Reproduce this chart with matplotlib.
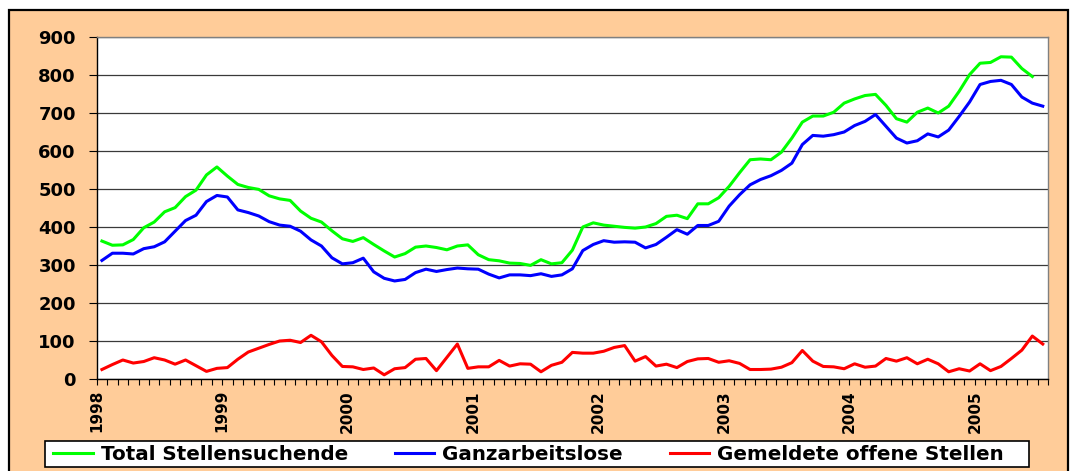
import matplotlib.pyplot as plt
import numpy as np
from matplotlib.patches import Rectangle

# monthly values (in thousands), Jan 1998 .. Jul 2005
total = [363, 352, 353, 367, 398, 413, 440, 451, 480, 497, 537, 558,
         534, 512, 504, 499, 482, 474, 470, 442, 423, 413, 390, 369,
         362, 372, 354, 337, 321, 330, 347, 350, 346, 340, 350, 353,
         327, 314, 311, 305, 304, 299, 314, 303, 306, 339, 400, 411,
         405, 402, 399, 397, 400, 409, 428, 431, 422, 461, 461, 477,
         507, 543, 577, 579, 577, 597, 634, 676, 692, 692, 702, 726,
         737, 746, 749, 720, 685, 676, 702, 713, 700, 718, 757, 801,
         831, 833, 848, 847, 817, 796]
unemployed = [312, 331, 331, 329, 343, 348, 361, 389, 417, 431, 467, 483,
              479, 445, 438, 429, 414, 405, 402, 389, 366, 350, 319, 303,
              306, 318, 282, 265, 258, 262, 280, 289, 283, 288, 292, 290,
              289, 276, 266, 274, 274, 272, 277, 270, 274, 290, 338, 354,
              364, 360, 361, 360, 345, 354, 373, 393, 381, 404, 404, 415,
              455, 485, 511, 525, 535, 549, 568, 617, 641, 639, 643, 650,
              667, 678, 696, 665, 634, 621, 627, 645, 637, 655, 691, 729,
              775, 783, 786, 775, 742, 726, 718]
vacancies = [25, 38, 50, 42, 46, 56, 50, 39, 50, 35, 20, 28,
             30, 52, 71, 81, 91, 100, 102, 96, 115, 98, 62, 33,
             32, 25, 29, 11, 27, 30, 52, 54, 22, 57, 92, 28,
             32, 32, 49, 34, 40, 39, 19, 36, 44, 70, 68, 68,
             73, 83, 88, 47, 59, 34, 39, 30, 46, 53, 54, 44,
             48, 41, 25, 25, 26, 31, 43, 75, 47, 33, 32, 27,
             40, 31, 34, 54, 47, 56, 40, 52, 40, 19, 27, 21,
             40, 22, 33, 54, 76, 113, 92]
years = ['1998', '1999', '2000', '2001', '2002', '2003', '2004', '2005']
labels = ['Total Stellensuchende', 'Ganzarbeitslose', 'Gemeldete offene Stellen']

plt.rcParams['font.family'] = 'DejaVu Sans'
plt.rcParams['font.weight'] = 'bold'

W, H = 1073, 471
fig = plt.figure(figsize=(W / 100, H / 100), dpi=100)
fig.patch.set_facecolor('white')

# peach chart area with black frame
fig.patches.append(Rectangle((9 / W, -3 / H), (1068 - 9) / W, (H - 10 + 3) / H,
                             transform=fig.transFigure, facecolor='#FFCC99',
                             edgecolor='black', lw=1.6, zorder=-10))
# legend box
fig.patches.append(Rectangle((45 / W, (H - 467) / H), (1029 - 45) / W, 26 / H,
                             transform=fig.transFigure, facecolor='white',
                             edgecolor='black', lw=1.2, zorder=-5))

ax = fig.add_axes([96.7 / W, (H - 379) / H, (1048 - 96.7) / W, 342 / H])
ax.set_facecolor('white')

months = np.arange(len(unemployed))
ax.plot(months[:len(total)], total, color='#00FF00', lw=2.2, label=labels[0])
ax.plot(months, unemployed, color='#0000FF', lw=2.2, label=labels[1])
ax.plot(months, vacancies, color='#FF0000', lw=2.2, label=labels[2])

ax.set_xlim(-0.5, len(unemployed) - 0.5)
ax.set_ylim(0, 900)
ax.set_yticks(range(0, 1000, 100))
ax.yaxis.grid(True, color='#3a3a3a', lw=0.9)
ax.set_axisbelow(True)

ax.set_xticks(np.arange(len(years)) * 12 - 0.5)
ax.set_xticklabels(years, rotation=90, fontsize=11, fontweight='bold')
ax.set_xticks(np.arange(-0.5, len(unemployed), 1), minor=True)
ax.tick_params(axis='x', which='both', direction='out', length=4, width=0.8,
               color='black', pad=4)
ax.tick_params(axis='y', direction='out', length=6, width=0.8, color='black',
               pad=9, labelsize=13)
for t in ax.get_yticklabels():
    t.set_fontweight('bold')

ax.spines['top'].set_color('#808080')
ax.spines['right'].set_color('#808080')
ax.spines['left'].set_color('black')
ax.spines['bottom'].set_color('black')
for s in ax.spines.values():
    s.set_linewidth(1)

leg = fig.legend(loc='center left', ncol=3,
                 bbox_to_anchor=(53 / W, (H - 454) / H),
                 bbox_transform=fig.transFigure, frameon=False,
                 prop={'size': 14.3, 'weight': 'bold'}, handlelength=2.0,
                 handletextpad=0.4, columnspacing=2.35, borderpad=0,
                 borderaxespad=0)

fig.savefig('out.png', dpi=100, facecolor=fig.get_facecolor())
